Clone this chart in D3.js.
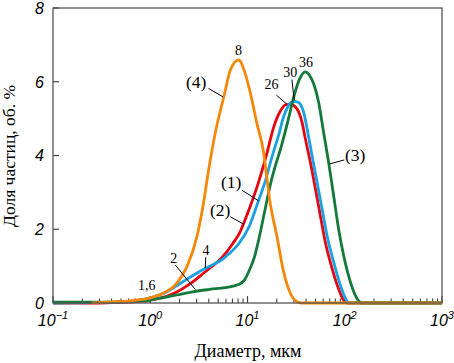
<!doctype html>
<html>
<head>
<meta charset="utf-8">
<style>
  body { margin: 0; background: #fff; }
  svg text { fill: #000; }
</style>
</head>
<body>
<svg id="chart" width="454" height="363"></svg>
<script src="https://d3js.org/d3.v7.min.js"></script>
<script>
// diameter (um) and volume share (%)
const red = [[0.1,0],[0.3,0],[0.5,0.02],[0.7,0.04],[1,0.08],[1.5,0.19],[2,0.34],[2.6,0.53],[3.5,0.8],[4.2,0.97],[5,1.13],[6,1.36],[7,1.6],[8.4,1.93],[9.1,2.15],[11,2.72],[13,3.28],[15.8,4.05],[18.5,4.75],[21.7,5.2],[25,5.38],[28,5.38],[32,5.28],[36.3,4.91],[39.3,4.46],[44.2,3.83],[49.8,3.11],[56,2.38],[63,1.66],[74,0.94],[86,0.4],[97,0.08],[105,0],[1000,0]];
const blue = [[0.1,0],[0.3,0.01],[0.5,0.03],[0.7,0.06],[1,0.14],[1.5,0.31],[2,0.52],[2.8,0.76],[3.7,0.94],[4.5,1.05],[5.5,1.18],[6.5,1.34],[8.2,1.62],[10.5,2.1],[13,2.78],[15.2,3.3],[17.8,3.95],[20.9,4.55],[23.5,5.05],[26.4,5.35],[30,5.47],[33.5,5.44],[37.7,5.18],[40.9,4.74],[46,4.01],[51.8,3.29],[58.3,2.57],[65.6,1.84],[76.7,1.12],[90,0.49],[105,0.06],[112,0],[1000,0]];
const green = [[0.1,0.02],[0.3,0.02],[0.5,0.03],[0.7,0.05],[1,0.08],[1.27,0.13],[1.88,0.22],[2.8,0.31],[4.1,0.37],[5.9,0.42],[8.1,0.5],[9.3,0.62],[10.5,0.9],[11.8,1.25],[13,1.7],[15.2,2.55],[17.5,3.3],[19.5,3.75],[22,4.2],[26.4,5.0],[30,5.6],[34,6.05],[39.3,6.27],[44,6.15],[47.8,5.95],[53.8,5.45],[60.5,4.64],[68.1,3.83],[76.7,2.93],[86.3,2.02],[97.2,1.3],[114,0.58],[133,0.13],[150,0],[1000,0]];
const orange = [[0.25,0],[0.39,0.03],[0.62,0.06],[1,0.14],[1.37,0.27],[1.88,0.54],[2.38,0.98],[3.02,1.8],[3.53,2.71],[3.98,3.6],[4.66,4.61],[5.77,5.64],[6.65,6.31],[8.09,6.59],[9.48,6.22],[10.7,5.69],[12.5,4.87],[14.5,4.15],[17.1,2.71],[20.1,1.8],[23.3,0.89],[27.5,0.27],[32.2,0.035],[36,0],[1000,0]];

const series = [
  {data: red, color: "#e30613"},
  {data: blue, color: "#1ba1e2"},
  {data: green, color: "#137a3b"},
  {data: orange, color: "#f5870a"}
];

const yTicks = [0, 2, 4, 6, 8];
const xDecades = [-1, 0, 1, 2, 3];

// peak labels and curve numbers: [text, x value, y value]
const peakLabels = [["8", 8.1, 6.72], ["26", 17.6, 5.8], ["30", 27.5, 6.12], ["36", 40, 6.4], ["4", 3.74, 1.3], ["2", 1.74, 1.08], ["1,6", 0.92, 0.35]];
const curveLabels = [["(4)", 2.97, 5.83], ["(1)", 6.8, 3.12], ["(2)", 5.24, 2.36], ["(3)", 128, 3.85]];
// leader lines: [x1, y1, x2, y2] in data units
const leaders = [[3.97, 5.82, 5.6, 5.59], [8.76, 3.06, 13, 2.77], [6.64, 2.34, 9.1, 2.14], [99, 3.88, 69.5, 3.77],
  [19.8, 5.64, 25.4, 5.39], [28.6, 6.06, 30.2, 5.5], [3.72, 1.24, 3.68, 0.95], [1.81, 1.03, 2.9, 0.37]];

const svg = d3.select("#chart");
const x = d3.scaleLog().domain([0.1, 1000]).range([53, 442]);
const y = d3.scaleLinear().domain([0, 8]).range([303, 8]);

// x ticks, pointing up into the plot
const g = svg.append("g");
xDecades.forEach(k => {
  g.append("line").attr("x1", x(Math.pow(10, k))).attr("x2", x(Math.pow(10, k)))
    .attr("y1", y(0)).attr("y2", y(0) - 7).attr("stroke", "#444").attr("stroke-width", 1.2);
  if (k < 3) {
    for (let m = 2; m <= 9; m++) {
      const v = m * Math.pow(10, k);
      g.append("line").attr("x1", x(v)).attr("x2", x(v))
        .attr("y1", y(0)).attr("y2", y(0) - 4.5).attr("stroke", "#444").attr("stroke-width", 1.1);
    }
  }
  const t = g.append("text").attr("x", x(Math.pow(10, k))).attr("y", 326)
    .attr("text-anchor", "middle")
    .style("font-family", "'Liberation Sans', Arial, sans-serif").style("font-style", "italic")
    .style("font-size", "16px");
  t.append("tspan").text("10");
  t.append("tspan").attr("dy", -7).style("font-size", "11px").text(k < 0 ? "\u2212" + (-k) : k);
});

yTicks.forEach(v => {
  g.append("line").attr("x1", x(0.1)).attr("x2", x(0.1) + 6)
    .attr("y1", y(v)).attr("y2", y(v)).attr("stroke", "#444").attr("stroke-width", 1.2);
  g.append("text").attr("x", 44).attr("y", y(v)).attr("dy", "0.36em")
    .attr("text-anchor", "end")
    .style("font-family", "'Liberation Sans', Arial, sans-serif").style("font-style", "italic")
    .style("font-size", "16px").text(v);
});

const line = d3.line().x(d => x(d[0])).y(d => y(d[1])).curve(d3.curveMonotoneX);

svg.append("g").selectAll("path").data(series).enter().append("path")
  .attr("d", d => line(d.data)).attr("fill", "none")
  .attr("stroke", d => d.color).attr("stroke-width", 2.8).attr("stroke-linejoin", "round");

// frame
svg.append("rect").attr("x", x(0.1)).attr("y", y(8))
  .attr("width", x(1000) - x(0.1)).attr("height", y(0) - y(8))
  .attr("fill", "none").attr("stroke", "#555").attr("stroke-width", 1.3);

svg.append("g").selectAll("line").data(leaders).enter().append("line")
  .attr("x1", d => x(d[0])).attr("y1", d => y(d[1]))
  .attr("x2", d => x(d[2])).attr("y2", d => y(d[3]))
  .attr("stroke", "#000").attr("stroke-width", 1);

svg.append("g").selectAll("text").data(peakLabels).enter().append("text")
  .attr("x", d => x(d[1])).attr("y", d => y(d[2])).attr("text-anchor", "middle")
  .style("font-family", "'Liberation Serif', 'Times New Roman', serif").style("font-size", "14px")
  .text(d => d[0]);

svg.append("g").selectAll("text").data(curveLabels).enter().append("text")
  .attr("x", d => x(d[1])).attr("y", d => y(d[2])).attr("text-anchor", "middle")
  .style("font-family", "'Liberation Serif', 'Times New Roman', serif").style("font-size", "17.5px")
  .text(d => d[0]);

// axis titles
svg.append("text").attr("x", 248).attr("y", 357).attr("text-anchor", "middle")
  .style("font-family", "'Liberation Serif', 'Times New Roman', serif").style("font-size", "18px")
  .text("Диаметр, мкм");
svg.append("text").attr("transform", "translate(15,156) rotate(-90)").attr("text-anchor", "middle")
  .style("font-family", "'Liberation Serif', 'Times New Roman', serif").style("font-size", "17.5px")
  .text("Доля частиц, об. %");
</script>
</body>
</html>
